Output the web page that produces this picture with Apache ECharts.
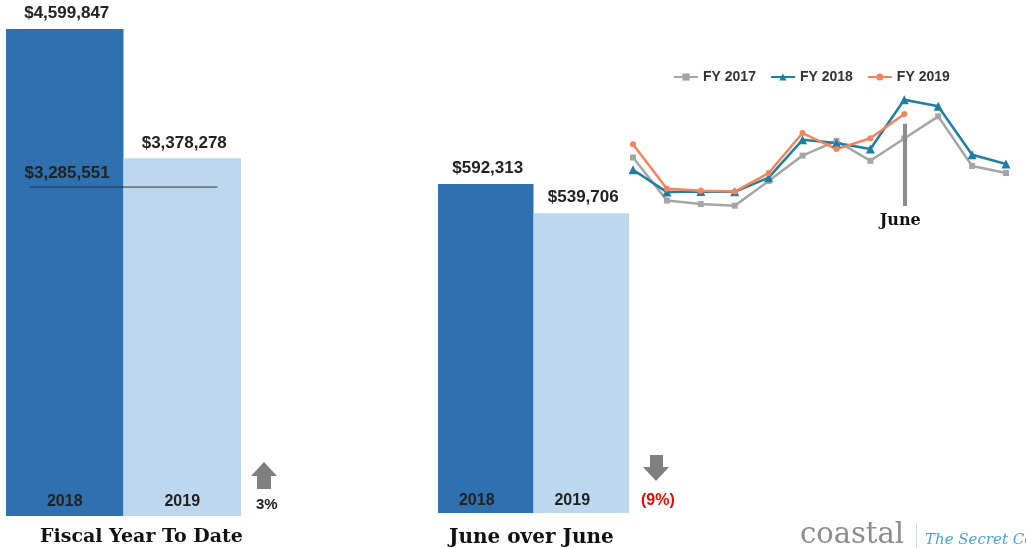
<!DOCTYPE html>
<html>
<head>
<meta charset="utf-8">
<script src="https://cdn.jsdelivr.net/npm/echarts@6/dist/echarts.min.js"></script>
<style>
  html, body { margin: 0; padding: 0; background: #fff; }
  #main { width: 1026px; height: 548px; }
</style>
</head>
<body>
<div id="main"></div>
<script>
// fiscal year to date
var ytdYears = ['2018', '2019'];
var ytdValues = [4599847, 3378278];
var ytdPrior = 3285551;        // FY2018 through June
var ytdLineLevel = 3107000;    // where the line sits in the picture

// june over june
var juneYears = ['2018', '2019'];
var juneValues = [592313, 539706];

// monthly trend (fiscal year Oct - Sep)
var months = ['Oct', 'Nov', 'Dec', 'Jan', 'Feb', 'Mar', 'Apr', 'May', 'Jun', 'Jul', 'Aug', 'Sep'];
var fy2017 = [380000, 222000, 209000, 203000, 294000, 387000, 441000, 368000, 450000, 531000, 349000, 323000];
var fy2018 = [335000, 253000, 255000, 254000, 306000, 445000, 433000, 411000, 592313, 568000, 390000, 356000];
var fy2019 = [429000, 265000, 258000, 255000, 323000, 470000, 411000, 451000, 539706];
var juneMarker = [504000, 202000];

var darkBlue = '#2E70B0';
var lightBlue = '#BDD7EE';
var textDark = '#222';

function money(v) {
    return '$' + Math.round(v).toLocaleString('en-US');
}
function pct(a, b) {
    var p = Math.round((a / b - 1) * 100);
    return p < 0 ? '(' + Math.abs(p) + '%)' : p + '%';
}

var myChart = echarts.init(document.getElementById('main'));

var barLabel = {
    show: true,
    position: 'top',
    distance: 7,
    offset: [2, 0],
    fontFamily: 'Liberation Sans',
    fontWeight: 'bold',
    fontSize: 17,
    color: textDark,
    formatter: function (p) { return money(p.value); }
};

function barData(values) {
    return values.map(function (v, i) {
        return { value: v, itemStyle: { color: i === 0 ? darkBlue : lightBlue } };
    });
}

var option = {
    backgroundColor: '#fff',
    animation: false,
    grid: [
        { left: 6, width: 235, top: 29, bottom: 32 },
        { left: 438, width: 191, top: 184, bottom: 35 },
        { left: 633, right: 20, top: 84, bottom: 287 }
    ],
    xAxis: [
        {
            gridIndex: 0, type: 'category', data: ytdYears, z: 10,
            axisLine: { show: false }, axisTick: { show: false },
            axisLabel: { inside: true, margin: 6, fontFamily: 'Liberation Sans', fontWeight: 'bold', fontSize: 16, color: textDark }
        },
        {
            gridIndex: 1, type: 'category', data: juneYears, z: 10,
            axisLine: { show: false }, axisTick: { show: false },
            axisLabel: { inside: true, margin: 4, padding: [0, 18, 0, 0], fontFamily: 'Liberation Sans', fontWeight: 'bold', fontSize: 16, color: textDark }
        },
        {
            gridIndex: 2, type: 'category', data: months, boundaryGap: false, show: false
        },
        {
            gridIndex: 0, type: 'value', min: 0, max: 2, show: false
        }
    ],
    yAxis: [
        { gridIndex: 0, type: 'value', min: 0, max: 'dataMax', show: false },
        { gridIndex: 1, type: 'value', min: 0, max: 'dataMax', show: false },
        { gridIndex: 2, type: 'value', min: 0, max: 650000, show: false }
    ],
    legend: {
        left: 673,
        top: 70,
        padding: 0,
        itemWidth: 24,
        itemHeight: 9,
        itemGap: 14,
        data: ['FY 2017', 'FY 2018', 'FY 2019'],
        textStyle: { fontFamily: 'Liberation Sans', fontWeight: 'bold', fontSize: 14, color: '#333' }
    },
    series: [
        {
            type: 'bar', xAxisIndex: 0, yAxisIndex: 0,
            barCategoryGap: 0,
            data: barData(ytdValues),
            label: barLabel
        },
        {
            type: 'line', xAxisIndex: 3, yAxisIndex: 0,
            data: [
                {
                    value: [0.2, ytdLineLevel],
                    label: {
                        show: true, position: 'top', align: 'left', distance: 5, offset: [-5, 0],
                        fontFamily: 'Liberation Sans', fontWeight: 'bold', fontSize: 17, color: textDark,
                        formatter: function () { return money(ytdPrior); }
                    }
                },
                [1.8, ytdLineLevel]
            ],
            symbol: 'circle', symbolSize: 0.1,
            lineStyle: { color: '#333', width: 1 },
            itemStyle: { color: '#333' },
            silent: true
        },
        {
            type: 'bar', xAxisIndex: 1, yAxisIndex: 1,
            barCategoryGap: 0,
            data: barData(juneValues),
            label: barLabel
        },
        {
            name: 'FY 2017', type: 'line', xAxisIndex: 2, yAxisIndex: 2,
            data: fy2017,
            symbol: 'rect', symbolSize: 6,
            color: '#A5A5A5',
            lineStyle: { width: 2.5 },
            markLine: {
                silent: true,
                symbol: 'none',
                lineStyle: { color: '#8C8C8C', width: 4, type: 'solid' },
                label: {
                    show: true, position: 'end', distance: 7, offset: [-4, 0],
                    fontFamily: 'DejaVu Serif', fontWeight: 'bold', fontSize: 16, color: '#111',
                    formatter: 'June'
                },
                data: [[{ coord: ['Jun', juneMarker[0]] }, { coord: ['Jun', juneMarker[1]] }]]
            }
        },
        {
            name: 'FY 2018', type: 'line', xAxisIndex: 2, yAxisIndex: 2,
            data: fy2018,
            symbol: 'triangle', symbolSize: 9,
            color: '#1F7EA1',
            lineStyle: { width: 2.5 }
        },
        {
            name: 'FY 2019', type: 'line', xAxisIndex: 2, yAxisIndex: 2,
            data: fy2019,
            symbol: 'circle', symbolSize: 6,
            color: '#F4845F',
            lineStyle: { width: 2.5 }
        }
    ],
    graphic: [
        // up arrow (ytd)
        { type: 'polygon', shape: { points: [[251, 476], [264, 462], [277, 476], [271, 476], [271, 489], [257, 489], [257, 476]] }, style: { fill: '#7F7F7F' } },
        { type: 'text', left: 256, top: 497, style: { text: pct(ytdValues[1], ytdPrior), fontFamily: 'Liberation Sans', fontWeight: 'bold', fontSize: 15, fill: textDark } },
        // down arrow (june)
        { type: 'polygon', shape: { points: [[650, 455], [663, 455], [663, 467], [669, 467], [656, 481], [643, 467], [650, 467]] }, style: { fill: '#7F7F7F' } },
        { type: 'text', left: 641, top: 493, style: { text: pct(juneValues[1], juneValues[0]), fontFamily: 'Liberation Sans', fontWeight: 'bold', fontSize: 16, fill: '#FF0000' } },
        // chart titles
        { type: 'text', left: 40, top: 528, style: { text: 'Fiscal Year To Date', fontFamily: 'DejaVu Serif', fontWeight: 'bold', fontSize: 19, fill: '#111' } },
        { type: 'text', left: 449, top: 528, style: { text: 'June over June', fontFamily: 'DejaVu Serif', fontWeight: 'bold', fontSize: 20, fill: '#111' } },
        // logo
        { type: 'text', left: 800, top: 521, style: { text: 'coastal', fontFamily: 'DejaVu Serif', fontSize: 29, fill: '#8C8C8C' } },
        { type: 'rect', shape: { x: 916, y: 523, width: 1, height: 25 }, style: { fill: '#C8D8E4' } },
        { type: 'text', left: 925, top: 533, style: { text: 'The Secret Cove', fontFamily: 'DejaVu Serif', fontStyle: 'italic', fontSize: 15, fill: '#4AA3D6' } }
    ]
};

myChart.setOption(option);
</script>
</body>
</html>
